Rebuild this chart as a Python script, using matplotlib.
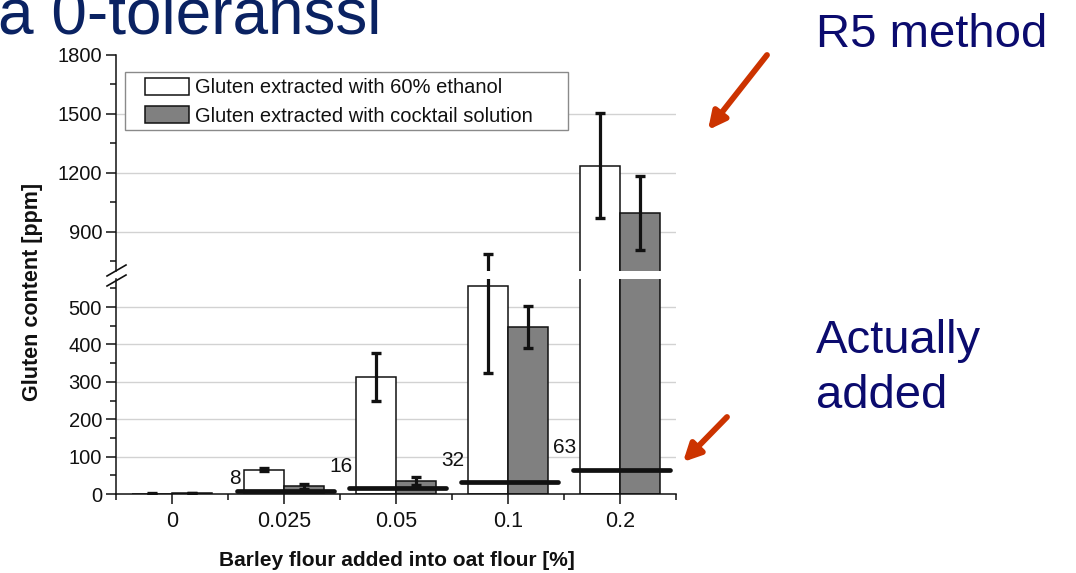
import numpy as np
import matplotlib
matplotlib.use("Agg")
import matplotlib.pyplot as plt
from matplotlib.lines import Line2D
from matplotlib.patches import Patch, Rectangle, FancyArrowPatch

plt.rcParams['font.family'] = ['Liberation Sans', 'DejaVu Sans']

# values
categories = ['0', '0.025', '0.05', '0.1', '0.2']
ethanol = [1, 65, 312, 556, 1237]
ethanol_err = [1, 4, 64, 232, 268]
cocktail = [3, 21, 35, 447, 995]
cocktail_err = [1, 7, 10, 57, 190]
added_idx = [1, 2, 3, 4]
added = [8, 16, 32, 63]

lower_ticks = [0, 100, 200, 300, 400, 500]
upper_ticks = [900, 1200, 1500, 1800]

W, H = 1076, 573
fig = plt.figure(figsize=(W / 100, H / 100), dpi=100)


def fx(px):
    return px / W


def fy(py):
    return 1 - py / H


ink = '#111111'
grid_c = '#d2d2d2'
left, right = 116, 676

ax_top = fig.add_axes([fx(left), fy(271), fx(right - left), (271 - 55) / H])
ax_bot = fig.add_axes([fx(left), fy(494), fx(right - left), (494 - 279) / H])

x = np.arange(len(categories))
w = 0.357

for ax in (ax_top, ax_bot):
    ax.bar(x - w / 2, ethanol, width=w, color='white', edgecolor=ink, linewidth=1.1, zorder=2)
    ax.bar(x + w / 2, cocktail, width=w, color='#808080', edgecolor=ink, linewidth=1.1, zorder=2)
    ax.errorbar(x - w / 2, ethanol, yerr=ethanol_err, fmt='none', ecolor=ink,
                elinewidth=2.3, capsize=3.8, capthick=2.4, zorder=3)
    ax.errorbar(x + w / 2, cocktail, yerr=cocktail_err, fmt='none', ecolor=ink,
                elinewidth=2.3, capsize=3.8, capthick=2.4, zorder=3)
    ax.set_xlim(-0.5, 4.5)
    for s in ('top', 'right'):
        ax.spines[s].set_visible(False)
    for s in ('left', 'bottom'):
        ax.spines[s].set_linewidth(1.1)
        ax.spines[s].set_color(ink)
    ax.tick_params(axis='both', which='major', direction='out', length=7, width=1.1,
                   labelsize=14.5, pad=3, color=ink, labelcolor=ink)
    ax.tick_params(axis='both', which='minor', direction='out', length=4, width=1.1, color=ink)

ax_bot.tick_params(axis='x', which='major', labelsize=15.5, pad=5)

# gridlines (none at the top edge)
for v in lower_ticks[1:]:
    ax_bot.axhline(v, color=grid_c, lw=1, zorder=0.5)
for v in upper_ticks[:-1]:
    ax_top.axhline(v, color=grid_c, lw=1, zorder=0.5)

# amounts actually added
xi = np.array(added_idx)
ax_bot.hlines(added, xi - 0.42, xi + 0.45, colors=ink, linewidth=3.4, capstyle='round', zorder=4)
label_dy = [13, 22, 22, 23]
for i, v, dy in zip(added_idx, added, label_dy):
    ax_bot.annotate(str(v), xy=(i - 0.39, v), xytext=(0, dy), textcoords='offset pixels',
                    ha='right', va='center', fontsize=15, color=ink)

ax_bot.set_ylim(0, 575)
ax_bot.set_yticks(lower_ticks)
ax_bot.set_yticks(np.arange(50, 575, 100), minor=True)
ax_bot.set_xticks(x, categories)
ax_bot.set_xticks(np.arange(-0.5, 5, 1), minor=True)

ax_top.set_ylim(700, 1800)
ax_top.set_yticks(upper_ticks)
ax_top.set_yticks([750, 1050, 1350, 1650], minor=True)
ax_top.spines['bottom'].set_visible(False)
ax_top.tick_params(axis='x', which='both', bottom=False, labelbottom=False)

# axis break marks
for y0 in (276, 286):
    fig.add_artist(Line2D([fx(107), fx(126)], [fy(y0), fy(y0 - 11)], color=ink, lw=1.2))

# legend with its own box
box = Rectangle((fx(125), fy(130)), fx(568 - 125), (130 - 72) / H, transform=fig.transFigure,
                facecolor='white', edgecolor='#8a8a8a', lw=1, zorder=5)
fig.add_artist(box)
handles = [Patch(facecolor='white', edgecolor=ink, lw=1.1),
           Patch(facecolor='#808080', edgecolor=ink, lw=1.1)]
leg = fig.legend(handles, ['Gluten extracted with 60% ethanol', 'Gluten extracted with cocktail solution'],
                 loc='upper left', bbox_to_anchor=(fx(145), fy(78)), bbox_transform=fig.transFigure,
                 frameon=False, fontsize=14.5, borderpad=0, borderaxespad=0,
                 handlelength=2.2, handleheight=0.9, handletextpad=0.3, labelspacing=0.45)
leg.set_zorder(6)
for t in leg.get_texts():
    t.set_color(ink)

fig.text(fx(33), fy(292), 'Gluten content [ppm]', rotation=90, ha='center', va='center',
         fontsize=15.5, fontweight='bold', color=ink)
fig.text(fx(397), fy(561), 'Barley flour added into oat flour [%]', ha='center', va='center',
         fontsize=15, fontweight='bold', color=ink)

# slide texts and arrows
fig.text(fx(-2), fy(34), 'a 0-toleranssi', fontsize=46, color='#0a2262', va='baseline', ha='left')
navy = '#0b0b6e'
fig.text(fx(816), fy(47), 'R5 method', fontsize=34, color=navy, va='baseline')
fig.text(fx(816), fy(353), 'Actually', fontsize=34, color=navy, va='baseline')
fig.text(fx(816), fy(408), 'added', fontsize=34, color=navy, va='baseline')

for tail, head in (((767, 55), (708, 130)), ((727, 417), (683, 462))):
    fig.add_artist(FancyArrowPatch(
        (fx(tail[0]), fy(tail[1])), (fx(head[0]), fy(head[1])), transform=fig.transFigure,
        arrowstyle='-|>', mutation_scale=26, color='#cc3300', lw=4.2, shrinkA=0, shrinkB=0))

fig.savefig('out.png', dpi=100)
